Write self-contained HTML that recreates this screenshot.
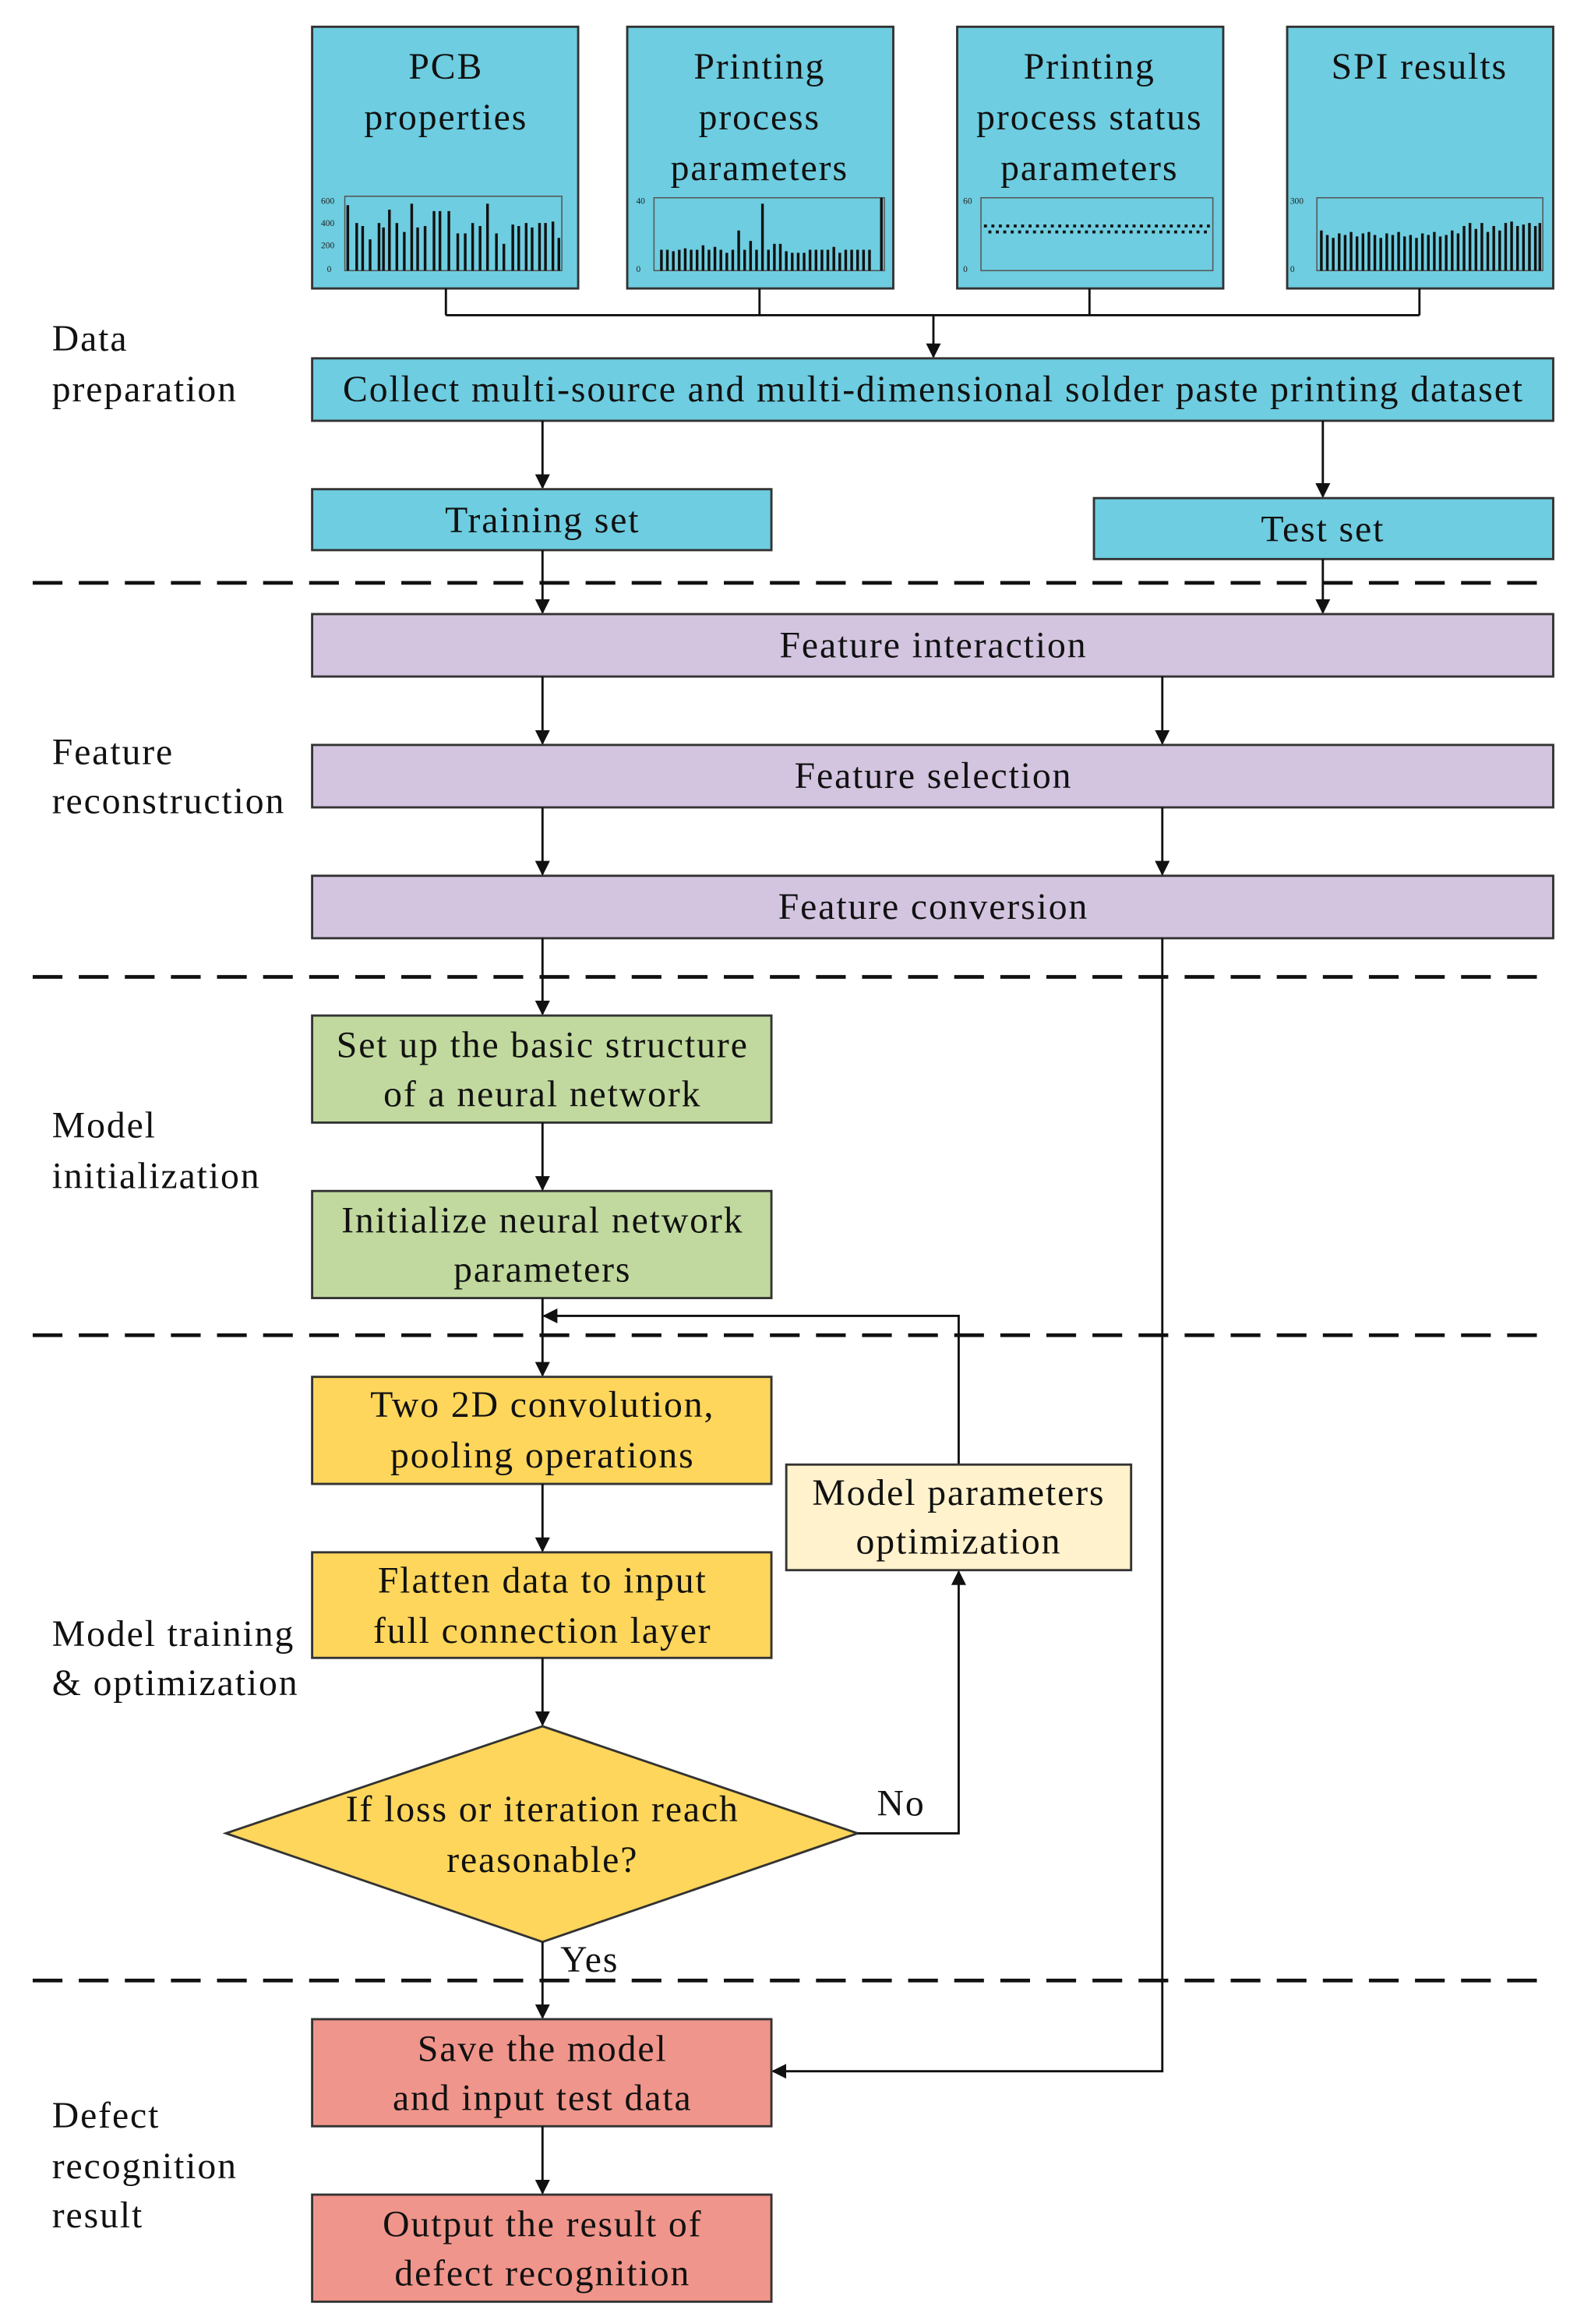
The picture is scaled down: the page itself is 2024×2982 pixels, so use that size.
<!DOCTYPE html>
<html><head><meta charset="utf-8"><style>
html,body{margin:0;padding:0;background:#fff}
svg{display:block}
text{font-family:"Liberation Serif",serif;font-size:25px;letter-spacing:1px;fill:#111}
.c{text-anchor:middle}
.bx{stroke:#333;stroke-width:1.5}
.ln{stroke:#111;stroke-width:1.5;fill:none}
.ds{stroke:#111;stroke-width:2.5;stroke-dasharray:20 11;fill:none}
.bar{stroke:#111;stroke-width:1.8}
.ax{stroke:#555;stroke-width:0.8;fill:none}
.tk{font-size:6px;letter-spacing:0;fill:#222}
</style></head><body>
<svg width="2024" height="2982" viewBox="0 0 1061 1563" preserveAspectRatio="none" xmlns="http://www.w3.org/2000/svg">
<defs><marker id="a" markerWidth="10" markerHeight="10" refX="9" refY="5" orient="auto" markerUnits="userSpaceOnUse"><path d="M0,0 L10,5 L0,10 z" fill="#111"/></marker></defs>
<rect width="1061" height="1563" fill="#fff"/>
<g fill="#6ecde0">
<rect class="bx" x="210" y="18" width="179" height="176"/>
<rect class="bx" x="422" y="18" width="179" height="176"/>
<rect class="bx" x="644" y="18" width="179" height="176"/>
<rect class="bx" x="866" y="18" width="179" height="176"/>
</g>
<text class="c" x="300" y="53">PCB</text><text class="c" x="300" y="87">properties</text>
<text class="c" x="511" y="53">Printing</text><text class="c" x="511" y="87">process</text><text class="c" x="511" y="121">parameters</text>
<text class="c" x="733" y="53">Printing</text><text class="c" x="733" y="87">process status</text><text class="c" x="733" y="121">parameters</text>
<text class="c" x="955" y="53">SPI results</text>
<rect class="ax" x="232" y="132" width="146" height="50"/>
<path class="bar" d="M234 182V138M240 182V150M244 182V152M249 182V161M255 182V150M258 182V153M262 182V141M267 182V150M272 182V156M277 182V137M281 182V153M286 182V152M292 182V142M296 182V142M302 182V142M308 182V157M313 182V157M318 182V150M323 182V152M328 182V137M334 182V157M339 182V164M345 182V151M349 182V152M354 182V150M358 182V153M363 182V150M367 182V150M372 182V149M376 182V160"/>
<rect class="ax" x="440" y="133" width="155" height="49"/>
<path class="bar" d="M445 182V168M449 182V168M453 182V169M457 182V168M461 182V167M465 182V168M469 182V168M473 182V165M477 182V168M481 182V166M485 182V168M489 182V170M493 182V168M497 182V155M501 182V168M505 182V162M509 182V168M513 182V137M517 182V168M521 182V164M525 182V164M529 182V169M533 182V170M537 182V170M541 182V170M545 182V168M549 182V168M553 182V168M557 182V168M561 182V166M565 182V170M569 182V168M573 182V168M577 182V168M581 182V168M585 182V168M593 182V133"/>
<rect class="ax" x="660" y="133" width="156" height="49"/>
<path stroke="#111" stroke-width="2" stroke-dasharray="2 3" d="M662 152H816M665 156H815"/>
<rect class="ax" x="886" y="133" width="152" height="49"/>
<path class="bar" d="M889 182V155M893 182V158M897 182V160M901 182V157M905 182V158M909 182V156M913 182V159M917 182V157M921 182V156M925 182V158M929 182V160M933 182V157M937 182V158M941 182V156M945 182V159M949 182V158M953 182V160M957 182V157M961 182V158M965 182V156M969 182V159M973 182V158M977 182V155M981 182V157M985 182V152M989 182V150M993 182V154M997 182V150M1001 182V156M1005 182V152M1009 182V155M1013 182V150M1017 182V149M1021 182V152M1025 182V151M1029 182V150M1033 182V152M1036 182V150"/>
<g><text x="216" y="137" class="tk">600</text><text x="216" y="152" class="tk">400</text><text x="216" y="167" class="tk">200</text><text x="220" y="183" class="tk">0</text>
<text x="428" y="137" class="tk">40</text><text x="428" y="183" class="tk">0</text><text x="648" y="137" class="tk">60</text><text x="648" y="183" class="tk">0</text><text x="868" y="137" class="tk">300</text><text x="868" y="183" class="tk">0</text></g>
<path class="ln" d="M300 194V212M511 194V212M733 194V212M955 194V212M300 212H955"/>
<path class="ln" d="M628 212V240" marker-end="url(#a)"/>
<rect class="bx" fill="#6ecde0" x="210" y="241" width="835" height="42"/>
<text class="c" x="628" y="270">Collect multi-source and multi-dimensional solder paste printing dataset</text>
<path class="ln" d="M365 283V328" marker-end="url(#a)"/>
<path class="ln" d="M890 283V334" marker-end="url(#a)"/>
<rect class="bx" fill="#6ecde0" x="210" y="329" width="309" height="41"/>
<text class="c" x="365" y="358">Training set</text>
<rect class="bx" fill="#6ecde0" x="736" y="335" width="309" height="41"/>
<text class="c" x="890" y="364">Test set</text>
<text x="35" y="236">Data</text><text x="35" y="270">preparation</text>
<path class="ds" d="M22 392H1045"/>
<path class="ln" d="M890 376V412" marker-end="url(#a)"/>
<path class="ln" d="M365 370V412" marker-end="url(#a)"/>
<g fill="#d3c5e0">
<rect class="bx" x="210" y="413" width="835" height="42"/>
<rect class="bx" x="210" y="501" width="835" height="42"/>
<rect class="bx" x="210" y="589" width="835" height="42"/>
</g>
<text class="c" x="628" y="442">Feature interaction</text>
<text class="c" x="628" y="530">Feature selection</text>
<text class="c" x="628" y="618">Feature conversion</text>
<path class="ln" d="M365 455V500" marker-end="url(#a)"/><path class="ln" d="M782 455V500" marker-end="url(#a)"/>
<path class="ln" d="M365 543V588" marker-end="url(#a)"/><path class="ln" d="M782 543V588" marker-end="url(#a)"/>
<text x="35" y="514">Feature</text><text x="35" y="547">reconstruction</text>
<path class="ds" d="M22 657H1045"/>
<path class="ln" d="M365 631V682" marker-end="url(#a)"/>
<path class="ln" d="M782 631V1393H520" marker-end="url(#a)"/>
<g fill="#c1d99e">
<rect class="bx" x="210" y="683" width="309" height="72"/>
<rect class="bx" x="210" y="801" width="309" height="72"/>
</g>
<text class="c" x="365" y="711">Set up the basic structure</text><text class="c" x="365" y="744">of a neural network</text>
<text class="c" x="365" y="829">Initialize neural network</text><text class="c" x="365" y="862">parameters</text>
<path class="ln" d="M365 755V800" marker-end="url(#a)"/>
<text x="35" y="765">Model</text><text x="35" y="799">initialization</text>
<path class="ds" d="M22 898H1045"/>
<path class="ln" d="M365 873V925" marker-end="url(#a)"/>
<path class="ln" d="M645 985V885H366" marker-end="url(#a)"/>
<g fill="#fed65b">
<rect class="bx" x="210" y="926" width="309" height="72"/>
<rect class="bx" x="210" y="1044" width="309" height="71"/>
<polygon class="bx" points="365,1161 577,1233 365,1306 152,1233"/>
</g>
<text class="c" x="365" y="953">Two 2D convolution,</text><text class="c" x="365" y="987">pooling operations</text>
<text class="c" x="365" y="1071">Flatten data to input</text><text class="c" x="365" y="1105">full connection layer</text>
<text class="c" x="365" y="1225">If loss or iteration reach</text><text class="c" x="365" y="1259">reasonable?</text>
<rect class="bx" fill="#fff2cc" x="529" y="985" width="232" height="71"/>
<text class="c" x="645" y="1012">Model parameters</text><text class="c" x="645" y="1045">optimization</text>
<path class="ln" d="M365 998V1043" marker-end="url(#a)"/>
<path class="ln" d="M365 1115V1160" marker-end="url(#a)"/>
<path class="ln" d="M577 1233H645V1057" marker-end="url(#a)"/>
<text x="590" y="1221">No</text>
<text x="35" y="1107">Model training</text><text x="35" y="1140">&amp; optimization</text>
<path class="ds" d="M22 1332H1045"/>
<path class="ln" d="M365 1306V1357" marker-end="url(#a)"/>
<text x="377" y="1326">Yes</text>
<g fill="#f0958b">
<rect class="bx" x="210" y="1358" width="309" height="72"/>
<rect class="bx" x="210" y="1476" width="309" height="72"/>
</g>
<text class="c" x="365" y="1386">Save the model</text><text class="c" x="365" y="1419">and input test data</text>
<text class="c" x="365" y="1504">Output the result of</text><text class="c" x="365" y="1537">defect recognition</text>
<path class="ln" d="M365 1430V1475" marker-end="url(#a)"/>
<text x="35" y="1431">Defect</text><text x="35" y="1465">recognition</text><text x="35" y="1498">result</text>
</svg>
</body></html>
